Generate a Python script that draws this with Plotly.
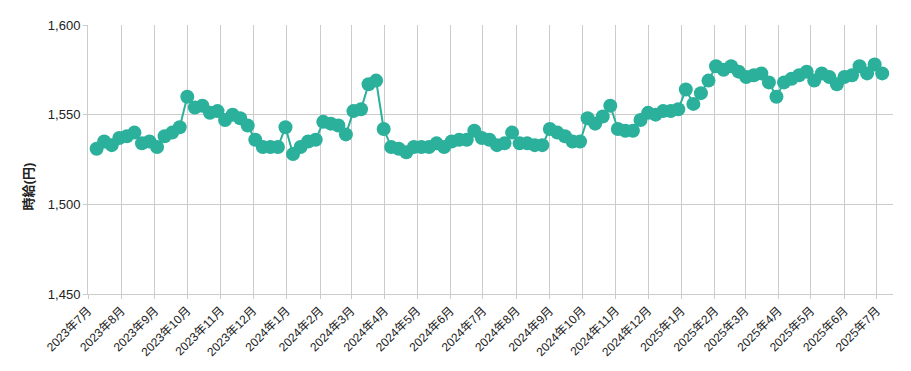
import plotly.graph_objects as go
import pandas as pd

start_date = "2023-07-09"
wages = [1531, 1535, 1533, 1537, 1538, 1540, 1534, 1535, 1532, 1538,
         1540, 1543, 1560, 1554, 1555, 1551, 1552, 1547, 1550, 1548,
         1544, 1536, 1532, 1532, 1532, 1543, 1528, 1532, 1535, 1536,
         1546, 1545, 1544, 1539, 1552, 1553, 1567, 1569, 1542, 1532,
         1531, 1529, 1532, 1532, 1532, 1534, 1532, 1535, 1536, 1536,
         1541, 1537, 1536, 1533, 1534, 1540, 1534, 1534, 1533, 1533,
         1542, 1540, 1538, 1535, 1535, 1548, 1545, 1549, 1555, 1542,
         1541, 1541, 1547, 1551, 1550, 1552, 1552, 1553, 1564, 1556,
         1562, 1569, 1577, 1575, 1577, 1574, 1571, 1572, 1573, 1568,
         1560, 1568, 1570, 1572, 1574, 1569, 1573, 1571, 1567, 1571,
         1572, 1577, 1573, 1578, 1573]
dates = pd.date_range(start_date, periods=len(wages), freq="7D")

month_ticks = pd.date_range("2023-07-01", "2025-07-01", freq="MS")
month_labels = [f"{d.year}年{d.month}月" for d in month_ticks]
y_ticks = [1450, 1500, 1550, 1600]
y_title = "時給(円)"

teal = "#2bb09b"
fig = go.Figure()
fig.add_trace(go.Scatter(
    x=dates, y=wages, mode="lines+markers",
    line=dict(color=teal, width=2),
    marker=dict(color=teal, size=14),
    showlegend=False,
))

fig.update_layout(
    width=903, height=363,
    margin=dict(l=80, r=18, t=17, b=77),
    plot_bgcolor="white", paper_bgcolor="white",
    font=dict(family="Liberation Sans, Arial, Noto Sans CJK JP, sans-serif", color="#222", size=12),
)
fig.add_annotation(
    text=f"<b>{y_title}</b>", textangle=-90,
    xref="paper", yref="paper", x=-0.0745, y=0.40,
    xanchor="center", yanchor="middle", showarrow=False,
    font=dict(size=13, color="#222"),
)
fig.update_xaxes(
    range=["2023-07-01", "2025-07-16"],
    tickvals=month_ticks, ticktext=month_labels, tickangle=-45,
    showgrid=True, gridcolor="#cccccc", gridwidth=1,
    ticks="outside", ticklen=4, tickcolor="#cccccc",
    showline=True, linecolor="#cccccc", zeroline=False,
    tickfont=dict(size=12, color="#222"),
    automargin=False,
)
fig.update_yaxes(
    range=[1450, 1600], tickvals=y_ticks, tickformat=",",
    showgrid=True, gridcolor="#cccccc", gridwidth=1,
    ticks="outside", ticklen=4, tickcolor="#cccccc",
    showline=True, linecolor="#cccccc", zeroline=False,
    tickfont=dict(size=13, color="#222"),
    automargin=False,
)

fig.write_html("out.html")
